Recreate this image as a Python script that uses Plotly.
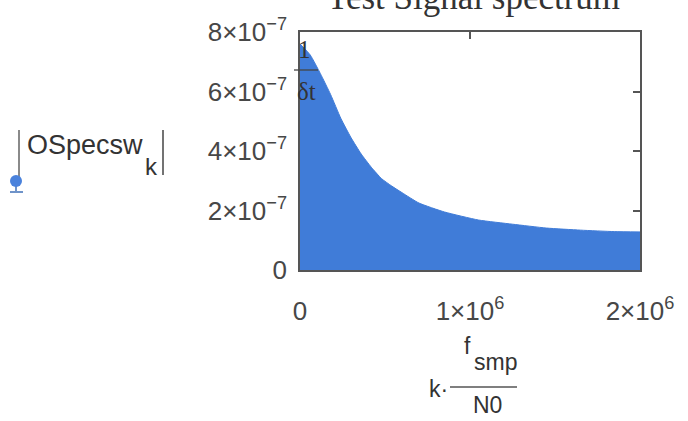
import plotly.graph_objects as go

# Spectrum magnitude |OSpecsw_k| versus frequency k*f_smp/N0 (Hz)
freq_hz = [0, 0.06e6, 0.12e6, 0.18e6, 0.24e6, 0.30e6, 0.36e6, 0.42e6, 0.48e6,
           0.54e6, 0.60e6, 0.70e6, 0.85e6, 1.05e6, 1.25e6, 1.45e6, 1.65e6,
           1.85e6, 2.0e6]
spec_mag = [7.60e-7, 7.23e-7, 6.60e-7, 5.90e-7, 5.10e-7, 4.45e-7, 3.90e-7,
            3.45e-7, 3.07e-7, 2.82e-7, 2.60e-7, 2.25e-7, 1.95e-7, 1.68e-7,
            1.54e-7, 1.41e-7, 1.34e-7, 1.29e-7, 1.28e-7]

x_ticks = [0, 1e6, 2e6]
x_ticktext = ["0", "1×10<sup>6</sup>", "2×10<sup>6</sup>"]
y_ticks = [0, 2e-7, 4e-7, 6e-7, 8e-7]
y_ticktext = ["0", "2×10<sup>−7</sup>", "4×10<sup>−7</sup>",
              "6×10<sup>−7</sup>", "8×10<sup>−7</sup>"]

W, H = 688, 421
L, R, T, B = 300, 48, 32, 151
PW, PH = W - L - R, H - T - B

def px(x):
    return (x - L) / PW

def py(y):
    return (H - B - y) / PH

BLUE = "rgb(64,124,216)"
FRAME = "#555555"
TXT = "#474747"
SANS = "Liberation Sans, Arial, sans-serif"
SERIF = "Liberation Serif, Times New Roman, serif"

fig = go.Figure()
fig.add_trace(go.Scatter(
    x=freq_hz, y=spec_mag, mode="lines", fill="tozeroy",
    line=dict(color=BLUE, width=1, shape="spline", smoothing=0.5),
    fillcolor=BLUE, hoverinfo="skip", showlegend=False,
))

axis_common = dict(
    showline=True, linecolor=FRAME, linewidth=1.5, mirror="ticks",
    ticks="inside", ticklen=7, tickwidth=1.5, tickcolor=FRAME,
    showgrid=False, zeroline=False, layer="below traces",
    tickfont=dict(family=SANS, size=26, color=TXT),
)

fig.update_layout(
    width=W, height=H,
    margin=dict(l=L, r=R, t=T, b=B),
    paper_bgcolor="white", plot_bgcolor="white",
    xaxis=dict(range=[0, 2e6], tickvals=x_ticks, ticktext=x_ticktext,
               ticklabelstandoff=17, **axis_common),
    yaxis=dict(range=[0, 8e-7], tickvals=y_ticks, ticktext=y_ticktext,
               ticklabelstandoff=6, **axis_common),
)

ann = []
# Title (partly above the page edge)
ann.append(dict(text="Test Signal spectrum", x=px(473), y=py(-3),
                font=dict(family=SERIF, size=35, color="#333333")))
# 1/δt marker label
ann.append(dict(text="1", x=px(304), y=py(50),
                font=dict(family=SERIF, size=25, color="#333333")))
ann.append(dict(text="δt", x=px(306), y=py(91),
                font=dict(family=SERIF, size=25, color="#333333")))
# Y axis expression |OSpecsw_k|
ann.append(dict(text="OSpecsw", x=px(85), y=py(145),
                font=dict(family=SANS, size=27, color="#333333")))
ann.append(dict(text="k", x=px(151), y=py(166),
                font=dict(family=SANS, size=24, color="#333333")))
# X axis expression k·f_smp/N0
ann.append(dict(text="k·", x=px(438), y=py(389),
                font=dict(family=SANS, size=23, color="#333333")))
ann.append(dict(text="f", x=px(467), y=py(346),
                font=dict(family=SANS, size=23, color="#333333")))
ann.append(dict(text="smp", x=px(495), y=py(362),
                font=dict(family=SANS, size=23, color="#333333")))
ann.append(dict(text="N0", x=px(487), y=py(405),
                font=dict(family=SANS, size=23, color="#333333")))
for a in ann:
    a.update(xref="paper", yref="paper", showarrow=False,
             xanchor="center", yanchor="middle")
fig.update_layout(annotations=ann)

def pline(x0, y0, x1, y1, color, width):
    return dict(type="line", xref="paper", yref="paper",
                x0=px(x0), y0=py(y0), x1=px(x1), y1=py(y1),
                line=dict(color=color, width=width))

shapes = [
    pline(294, 70, 318, 70, "#444444", 1.3),      # fraction bar of 1/δt
    pline(19, 130, 19, 177, "#8a8a8a", 2),        # stem of trace symbol
    pline(163, 130, 163, 175, "#444444", 1.5),    # closing abs bar
    pline(450, 387, 517, 387, "#555555", 1.5),    # fraction bar f_smp/N0
    pline(16, 186, 16, 192, "#6f93c9", 2),        # symbol post
    pline(10, 192, 23, 192, "#6f93c9", 2),        # symbol base
    dict(type="circle", xref="paper", yref="paper",
         x0=px(10), y0=py(175), x1=px(22), y1=py(187),
         fillcolor="rgb(74,130,220)", line=dict(width=0)),
]
fig.update_layout(shapes=shapes)

fig.write_html("out.html")
